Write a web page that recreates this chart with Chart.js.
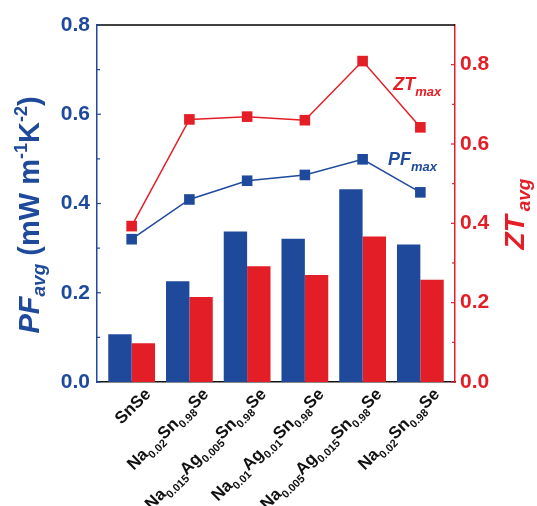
<!DOCTYPE html>
<html><head><meta charset="utf-8">
<script src="https://cdn.jsdelivr.net/npm/chart.js@4/dist/chart.umd.min.js"></script>
<style>html,body{margin:0;padding:0;background:#fff;}canvas{display:block;}</style>
</head><body>
<canvas id="c" width="537" height="506"></canvas>
<script>
// ---- data ----
const categories = ["SnSe", "Na_{0.02}Sn_{0.98}Se", "Na_{0.015}Ag_{0.005}Sn_{0.98}Se",
  "Na_{0.01}Ag_{0.01}Sn_{0.98}Se", "Na_{0.005}Ag_{0.015}Sn_{0.98}Se", "Na_{0.02}Sn_{0.98}Se"];
const pfAvg = [0.107, 0.226, 0.337, 0.321, 0.432, 0.308];
const ztAvg = [0.098, 0.214, 0.292, 0.270, 0.367, 0.258];
const pfMax = [0.320, 0.409, 0.451, 0.464, 0.499, 0.425];
const ztMax = [0.393, 0.662, 0.669, 0.660, 0.809, 0.642];
const leftMinor = [0.1, 0.3, 0.5, 0.7];
const leftMajor = [0.0, 0.2, 0.4, 0.6, 0.8];
const rightMinor = [0.1, 0.3, 0.5, 0.7];
const rightMajor = [0.0, 0.2, 0.4, 0.6, 0.8];

const BLUE = '#1f4a9c';
const RED = '#e31e26';
const FONT = 'Arial, "Liberation Sans", sans-serif';

function parseRich(s) {
  const out = [];
  const re = /([^_^]+)|_\{([^}]*)\}|\^\{([^}]*)\}/g;
  let m;
  while ((m = re.exec(s))) {
    if (m[1]) out.push({t: m[1], k: 'n'});
    else if (m[2] !== undefined) out.push({t: m[2], k: 'sub'});
    else out.push({t: m[3], k: 'sup'});
  }
  return out;
}

function drawRich(ctx, segs, ax, ay, angle, align, st) {
  ctx.save();
  ctx.translate(ax, ay);
  ctx.rotate(angle);
  ctx.textBaseline = 'alphabetic';
  ctx.textAlign = 'left';
  ctx.fillStyle = st.color;
  const fontOf = s => (s.k === 'n' ? st.main : st.small);
  let total = 0;
  segs.forEach(s => { ctx.font = fontOf(s); total += ctx.measureText(s.t).width; });
  let cx = align === 'right' ? -total : (align === 'center' ? -total / 2 : 0);
  segs.forEach(s => {
    ctx.font = fontOf(s);
    const dy = s.k === 'sub' ? st.subDy : (s.k === 'sup' ? st.supDy : 0);
    ctx.fillText(s.t, cx, dy);
    cx += ctx.measureText(s.t).width;
  });
  ctx.restore();
}

function drawSegs(ctx, segs, cx0, cy0, angle, color) {
  ctx.save();
  ctx.translate(cx0, cy0);
  ctx.rotate(angle);
  ctx.fillStyle = color;
  ctx.textBaseline = 'alphabetic';
  ctx.textAlign = 'left';
  let total = 0;
  segs.forEach(s => { ctx.font = s.f; total += ctx.measureText(s.t).width + (s.gap || 0); });
  let cx = -total / 2;
  segs.forEach(s => { ctx.font = s.f; cx += (s.gap || 0); ctx.fillText(s.t, cx, s.dy); cx += ctx.measureText(s.t).width; });
  ctx.restore();
}
function drawSegsLeft(ctx, segs, x0, y0, color) {
  ctx.save();
  ctx.fillStyle = color;
  ctx.textBaseline = 'alphabetic';
  ctx.textAlign = 'left';
  let cx = x0;
  segs.forEach(s => { ctx.font = s.f; ctx.fillText(s.t, cx, y0 + s.dy); cx += ctx.measureText(s.t).width; });
  ctx.restore();
}

const deco = {
  id: 'deco',
  afterDraw(chart) {
    const {ctx, chartArea: a, scales} = chart;
    const x = scales.x, y = scales.y, y1 = scales.y1;
    ctx.save();
    ctx.strokeStyle = '#000'; ctx.lineWidth = 1.5;
    ctx.beginPath(); ctx.moveTo(a.left, a.top); ctx.lineTo(a.right, a.top); ctx.stroke();
    ctx.lineWidth = 1.2;
    ctx.strokeStyle = BLUE;
    leftMajor.forEach(v => { const p = y.getPixelForValue(v); ctx.beginPath(); ctx.moveTo(a.left, p); ctx.lineTo(a.left + 4, p); ctx.stroke(); });
    leftMinor.forEach(v => { const p = y.getPixelForValue(v); ctx.beginPath(); ctx.moveTo(a.left, p); ctx.lineTo(a.left + 3, p); ctx.stroke(); });
    ctx.strokeStyle = RED;
    rightMajor.forEach(v => { const p = y1.getPixelForValue(v); ctx.beginPath(); ctx.moveTo(a.right, p); ctx.lineTo(a.right - 4, p); ctx.stroke(); });
    rightMinor.forEach(v => { const p = y1.getPixelForValue(v); ctx.beginPath(); ctx.moveTo(a.right, p); ctx.lineTo(a.right - 3, p); ctx.stroke(); });
    ctx.restore();

    categories.forEach((c, i) => {
      const px = x.getPixelForValue(i);
      drawRich(ctx, parseRich(c), px + 20, a.bottom + 13, -Math.PI / 4, 'right',
        {color: '#111', main: 'bold 17px ' + FONT, small: 'bold 11px ' + FONT, subDy: 5, supDy: -7});
    });

    const leftTitle = [
      {t: 'PF', f: 'italic bold 29px ' + FONT, dy: 0},
      {t: 'avg', f: 'italic bold 19px ' + FONT, dy: 6},
      {t: ' (mW m', f: 'bold 29px ' + FONT, dy: 0},
      {t: '-1', f: 'bold 18px ' + FONT, dy: -12},
      {t: 'K', f: 'bold 29px ' + FONT, dy: 0},
      {t: '-2', f: 'bold 18px ' + FONT, dy: -12},
      {t: ')', f: 'bold 29px ' + FONT, dy: 0}
    ];
    drawSegs(ctx, leftTitle, 39, 215, -Math.PI / 2, BLUE);
    const rightTitle = [
      {t: 'ZT', f: 'italic bold 28px ' + FONT, dy: 0},
      {t: 'avg', f: 'italic bold 19px ' + FONT, dy: 6, gap: 4}
    ];
    drawSegs(ctx, rightTitle, 524, 214, -Math.PI / 2, RED);

    const zt = [
      {t: 'ZT', f: 'italic bold 18px ' + FONT, dy: 0},
      {t: 'max', f: 'italic bold 13px ' + FONT, dy: 6}
    ];
    drawSegsLeft(ctx, zt, x.getPixelForValue(4.53), y1.getPixelForValue(0.736), RED);
    const pf = [
      {t: 'PF', f: 'italic bold 18px ' + FONT, dy: 0},
      {t: 'max', f: 'italic bold 13px ' + FONT, dy: 6}
    ];
    drawSegsLeft(ctx, pf, x.getPixelForValue(4.44), y.getPixelForValue(0.486), BLUE);
  }
};

const idx = categories.map((_, i) => i);
const toXY = arr => arr.map((v, i) => ({x: idx[i], y: v}));

new Chart(document.getElementById('c'), {
  data: {
    datasets: [
      {type: 'line', label: 'PFmax', data: toXY(pfMax), yAxisID: 'y', borderColor: BLUE, backgroundColor: BLUE,
        borderWidth: 1.5, pointStyle: 'rect', pointRadius: 7.5, pointBorderWidth: 0, pointBackgroundColor: BLUE, order: 0},
      {type: 'line', label: 'ZTmax', data: toXY(ztMax), yAxisID: 'y1', borderColor: RED, backgroundColor: RED,
        borderWidth: 1.5, pointStyle: 'rect', pointRadius: 7.5, pointBorderWidth: 0, pointBackgroundColor: RED, order: 0},
      {type: 'bar', label: 'PFavg', data: toXY(pfAvg), yAxisID: 'y', backgroundColor: BLUE,
        categoryPercentage: 0.81, barPercentage: 1.0, order: 1},
      {type: 'bar', label: 'ZTavg', data: toXY(ztAvg), yAxisID: 'y1', backgroundColor: RED,
        categoryPercentage: 0.81, barPercentage: 1.0, order: 1}
    ]
  },
  options: {
    responsive: false,
    animation: false,
    layout: {padding: {top: 25, left: 0, right: 0, bottom: 0}},
    plugins: {legend: {display: false}, tooltip: {enabled: false}},
    scales: {
      x: {
        type: 'linear', position: 'bottom', min: -0.6, max: 5.6, offset: false,
        ticks: {display: false, stepSize: 1, includeBounds: false},
        grid: {display: false, offset: false},
        border: {display: true, color: '#111', width: 1.5},
        afterFit: s => { s.height = 124; }
      },
      y: {
        type: 'linear', position: 'left', min: 0, max: 0.8,
        ticks: {stepSize: 0.2, color: BLUE, padding: 7, font: {family: FONT, size: 21, weight: 'bold'},
          callback: v => Number(v).toFixed(1)},
        grid: {display: false, drawTicks: false},
        border: {display: true, color: BLUE, width: 1.5},
        afterFit: s => { s.width = 97; }
      },
      y1: {
        type: 'linear', position: 'right', min: 0, max: 0.9,
        ticks: {stepSize: 0.2, includeBounds: false, color: RED, padding: 5, font: {family: FONT, size: 21, weight: 'bold'},
          callback: v => Number(v).toFixed(1)},
        grid: {display: false, drawTicks: false},
        border: {display: true, color: RED, width: 1.5},
        afterFit: s => { s.width = 82; }
      }
    }
  },
  plugins: [deco]
});
</script>
</body></html>
